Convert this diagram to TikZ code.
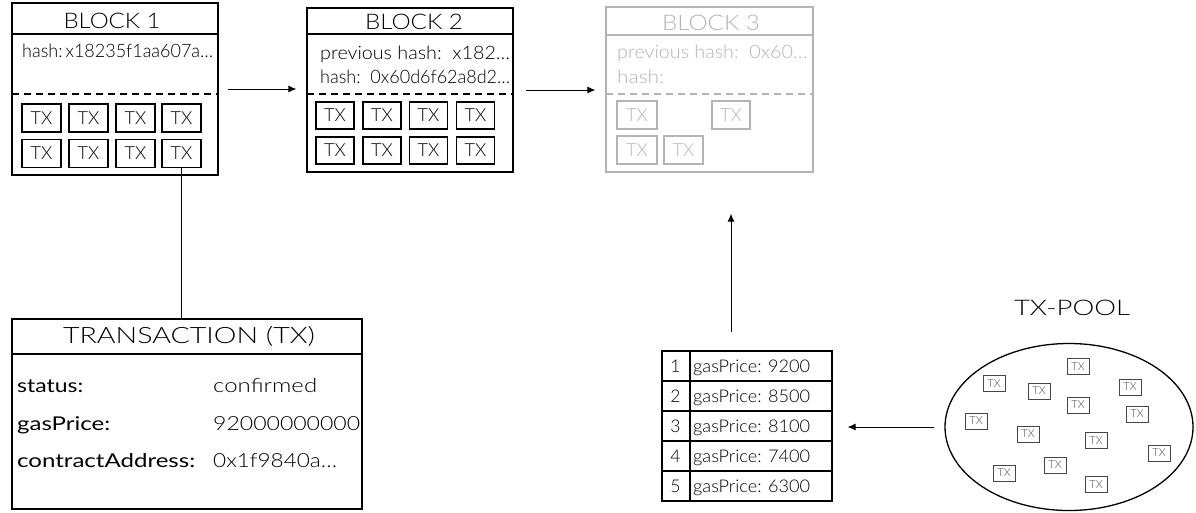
\documentclass[tikz,border=0pt]{standalone}
\usepackage{fontspec}
\usepackage{graphicx}
\setmainfont{Lato Light}
\newfontfamily\lreg{Lato}
\usetikzlibrary{arrows.meta,shapes.geometric}
\definecolor{fade}{RGB}{180,180,180}
\definecolor{poolgray}{RGB}{70,70,70}
% scale a text horizontally to a given width (in pt)
\newcommand\fitw[2]{\setbox0=\hbox{#2}\pgfmathsetmacro\myfitr{#1/\the\wd0}\scalebox{\myfitr}[1]{\box0}}
\begin{document}
\begin{tikzpicture}[x=1pt,y=-1pt,
  outline/.style={draw, line width=1.2pt, inner sep=0pt},
  ttl/.style={inner sep=0pt, anchor=base, font=\fontsize{21.5}{21.5}\selectfont},
  txbox/.style={draw, line width=1.1pt, inner sep=0pt, minimum width=39pt, minimum height=28pt, font=\fontsize{18}{18}\selectfont},
  info/.style={inner sep=0pt, anchor=base west, font=\fontsize{18.5}{18.5}\selectfont},
  lbl/.style={inner sep=0pt, anchor=base west, font=\lreg\fontsize{19}{19}\selectfont},
  val/.style={inner sep=0pt, anchor=base west, font=\fontsize{19.5}{19.5}\selectfont},
  cell/.style={inner sep=0pt, anchor=base, font=\fontsize{17.5}{17.5}\selectfont},
  ptx/.style={draw=poolgray, line width=0.9pt, inner sep=0pt, minimum width=22pt, minimum height=16pt, text=poolgray, font=\fontsize{11}{11}\selectfont},
  arr/.style={-{Latex[length=8pt,width=7pt]}, line width=1pt},
  sep/.style={line width=1.2pt},
  dsep/.style={line width=1.2pt, dash pattern=on 7pt off 5pt}
]
\useasboundingbox (0,0) rectangle (1196,512);

% ---------- BLOCK 1 ----------
\node[outline, minimum width=206pt, minimum height=172pt] (b1) at (115,89) {};
\node[ttl] (b1t) at (112,28) {\fitw{97}{BLOCK 1}};
\draw[sep] (12,34) -- (218,34);
\draw[dsep] (12,94) -- (218,94);
\node[info] (b1h) at (22,57) {\fitw{191}{hash:\,x18235f1aa607a…}};
\node[txbox] (a1) at (41.5,118) {TX};
\node[txbox] (a2) at (88.5,118) {TX};
\node[txbox] (a3) at (135.5,118) {TX};
\node[txbox] (a4) at (181.5,118) {TX};
\node[txbox] (a5) at (41.5,153.5) {TX};
\node[txbox] (a6) at (88.5,153.5) {TX};
\node[txbox] (a7) at (135.5,153.5) {TX};
\node[txbox] (a8) at (181.5,153.5) {TX};

% ---------- BLOCK 2 ----------
\node[outline, minimum width=206pt, minimum height=164pt] (b2) at (410,90) {};
\node[ttl] (b2t) at (414,29) {\fitw{98}{BLOCK 2}};
\draw[sep] (307,34) -- (513,34);
\draw[dsep] (307,94) -- (513,94);
\node[info] (b2p) at (320,59) {\fitw{190}{previous hash:\ \ x182…}};
\node[info] (b2h) at (320,83) {\fitw{190}{hash:\ \ 0x60d6f62a8d2…}};
\node[txbox, minimum width=38pt, minimum height=27pt] (c1) at (335,115.5) {TX};
\node[txbox, minimum width=38pt, minimum height=27pt] (c2) at (382,115.5) {TX};
\node[txbox, minimum width=38pt, minimum height=27pt] (c3) at (428.5,115.5) {TX};
\node[txbox, minimum width=38pt, minimum height=27pt] (c4) at (475.5,115.5) {TX};
\node[txbox, minimum width=38pt, minimum height=27pt] (c5) at (335,150.5) {TX};
\node[txbox, minimum width=38pt, minimum height=27pt] (c6) at (382,150.5) {TX};
\node[txbox, minimum width=38pt, minimum height=27pt] (c7) at (428.5,150.5) {TX};
\node[txbox, minimum width=38pt, minimum height=27pt] (c8) at (475.5,150.5) {TX};

% ---------- BLOCK 3 ----------
\node[outline, draw=fade, minimum width=207pt, minimum height=165pt] (b3) at (709.5,89.5) {};
\node[ttl, text=fade] (b3t) at (711,30) {\fitw{98}{BLOCK 3}};
\draw[sep, fade] (606,35) -- (813,35);
\draw[dsep, fade] (606,94) -- (813,94);
\node[info, text=fade] (b3p) at (617,58) {\fitw{190}{previous hash:\ \ 0x60…}};
\node[info, text=fade] (b3h) at (617,83) {\fitw{47}{hash:}};
\node[txbox, draw=fade, text=fade, minimum width=40pt] (d1) at (637,115) {TX};
\node[txbox, draw=fade, text=fade, minimum width=38pt] (d2) at (731,115) {TX};
\node[txbox, draw=fade, text=fade, minimum width=40pt] (d3) at (637,150) {TX};
\node[txbox, draw=fade, text=fade, minimum width=39pt] (d4) at (683.5,150) {TX};

% ---------- TRANSACTION ----------
\node[outline, minimum width=350pt, minimum height=190pt] (tx) at (187,414) {};
\node[ttl, font=\fontsize{22.5}{22.5}\selectfont] (txt) at (189,343) {\fitw{252}{TRANSACTION (TX)}};
\draw[sep] (12,354) -- (362,354);
\node[lbl] (l1) at (17,392) {\fitw{66}{status:}};
\node[lbl] (l2) at (17,430) {\fitw{93}{gasPrice:}};
\node[lbl] (l3) at (17,467) {\fitw{178}{contractAddress:}};
\node[val] (v1) at (213,392) {\fitw{104}{confirmed}};
\node[val] (v2) at (213,430) {\fitw{147}{92000000000}};
\node[val] (v3) at (213,467) {\fitw{124}{0x1f9840a…}};

% ---------- TABLE ----------
\node[outline, minimum width=170pt, minimum height=150pt] (tbl) at (747,426) {};
\draw[sep] (662,381) -- (832,381);
\draw[sep] (662,411) -- (832,411);
\draw[sep] (662,441) -- (832,441);
\draw[sep] (662,471) -- (832,471);
\draw[sep] (690,351) -- (690,501);
\node[cell] (n1) at (675.5,372) {1};
\node[cell] (n2) at (675.5,402) {2};
\node[cell] (n3) at (675.5,432) {3};
\node[cell] (n4) at (675.5,462) {4};
\node[cell] (n5) at (675.5,492) {5};
\node[cell, anchor=base west] (g1) at (693,372) {\fitw{117}{gasPrice: 9200}};
\node[cell, anchor=base west] (g2) at (693,402) {\fitw{117}{gasPrice: 8500}};
\node[cell, anchor=base west] (g3) at (693,432) {\fitw{117}{gasPrice: 8100}};
\node[cell, anchor=base west] (g4) at (693,462) {\fitw{117}{gasPrice: 7400}};
\node[cell, anchor=base west] (g5) at (693,492) {\fitw{117}{gasPrice: 6300}};

% ---------- TX-POOL ----------
\node[ttl] (poolt) at (1072,315) {\fitw{116}{TX-POOL}};
\node[draw, ellipse, line width=1.3pt, inner sep=0pt, minimum width=248pt, minimum height=167pt] (pool) at (1069,427) {};
\node[ptx] (p1) at (994,383.5) {TX};
\node[ptx] (p2) at (1039,391) {TX};
\node[ptx] (p3) at (1078,366.5) {TX};
\node[ptx] (p4) at (1078,405) {TX};
\node[ptx] (p5) at (1130,387) {TX};
\node[ptx] (p6) at (1137,414) {TX};
\node[ptx] (p7) at (976,421) {TX};
\node[ptx] (p8) at (1028,434) {TX};
\node[ptx] (p9) at (1096,440.5) {TX};
\node[ptx] (p10) at (1159,453) {TX};
\node[ptx] (p11) at (1055,465) {TX};
\node[ptx] (p12) at (1004,473) {TX};
\node[ptx] (p13) at (1096,484.5) {TX};

% ---------- CONNECTORS ----------
\coordinate (va) at (731,0);
\draw[arr, shorten <=9pt, shorten >=10pt] (b1.east) -- (b1.east -| b2.west);
\draw[arr, shorten <=12pt, shorten >=10pt] (b2.east) -- (b2.east -| b3.west);
\draw[arr, shorten <=18pt, shorten >=41pt] (tbl.north -| va) -- (b3.south -| va);
\draw[arr, shorten <=10pt, shorten >=15pt] (pool.west) -- (pool.west -| tbl.east);
\draw[line width=1pt] (a8.south) -- (a8.south |- tx.north);
\end{tikzpicture}
\end{document}
